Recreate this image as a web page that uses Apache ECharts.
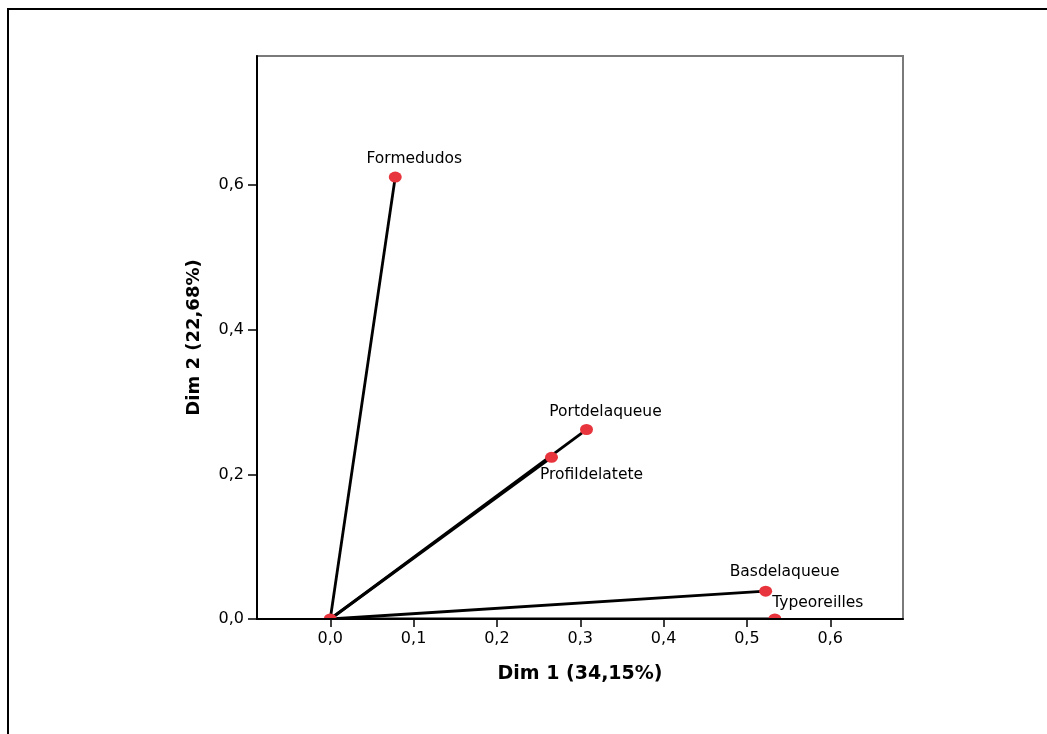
<!DOCTYPE html>
<html>
<head>
<meta charset="utf-8">
<script src="https://cdn.jsdelivr.net/npm/echarts@6/dist/echarts.min.js"></script>
<style>
html,body{margin:0;padding:0;background:#fff;}
#chart{width:1047px;height:734px;}
</style>
</head>
<body>
<div id="chart"></div>
<script>
// ---- data ----
const names = ['Formedudos', 'Portdelaqueue', 'Profildelatete', 'Basdelaqueue', 'Typeoreilles'];
const dim1 = [0.078, 0.3075, 0.2655, 0.5225, 0.5335];
const dim2 = [0.611, 0.262, 0.2235, 0.0385, 0.0];
const xTicks = [0.0, 0.1, 0.2, 0.3, 0.4, 0.5, 0.6];
const yTicks = [0.0, 0.2, 0.4, 0.6];
const xTitle = 'Dim 1 (34,15%)';
const yTitle = 'Dim 2 (22,68%)';
const xRange = [-0.0879, 0.6873];
const yRange = [0, 0.7784];

// ---- layout of the point labels (by name) ----
const labelPlacement = {
  'Formedudos':     {position: 'top', offset: [19, 1]},
  'Portdelaqueue':  {position: 'top', offset: [19, 2]},
  'Profildelatete': {position: 'bottom', offset: [40, -2]},
  'Basdelaqueue':   {position: 'top', offset: [19, 0]},
  'Typeoreilles':   {position: 'top', offset: [43, 3]}
};

const fmt = v => v.toFixed(1).replace('.', ',');
const FONT = 'DejaVu Sans';

const series = [];
names.forEach((n, i) => {
  series.push({
    type: 'line',
    data: [[0, 0], [dim1[i], dim2[i]]],
    symbol: 'none',
    lineStyle: {color: '#000', width: 2.8},
    silent: true,
    z: 2
  });
});
series.push({
  type: 'scatter',
  clip: true,
  z: 3,
  symbol: 'circle',
  symbolSize: [13, 11],
  itemStyle: {color: '#e8343c', opacity: 1},
  data: [{value: [0, 0], label: {show: false}}].concat(names.map((n, i) => ({
    name: n,
    value: [dim1[i], dim2[i]],
    label: Object.assign({show: true, formatter: n, color: '#000'}, labelPlacement[n])
  }))),
  label: {
    show: true,
    color: '#000',
    fontFamily: FONT,
    fontSize: 15.5,
    distance: 6
  }
});

const chart = echarts.init(document.getElementById('chart'), null, {renderer: 'canvas'});
chart.setOption({
  animation: false,
  backgroundColor: '#fff',
  graphic: [{
    type: 'rect',
    shape: {x: 8, y: 9, width: 1200, height: 900},
    style: {fill: 'none', stroke: '#000', lineWidth: 2},
    silent: true,
    z: -10
  }, {
    // white mask below the plot frame so markers sitting on the axis are cut like the reference
    type: 'rect',
    shape: {x: 240, y: 620, width: 700, height: 40},
    style: {fill: '#fff'},
    silent: true,
    z: 5
  }],
  grid: {
    left: 257, right: 144, top: 56, bottom: 115,
    show: true, borderColor: '#7a7a7a', borderWidth: 2, backgroundColor: 'transparent'
  },
  xAxis: {
    type: 'value',
    z: 10,
    min: xRange[0], max: xRange[1],
    splitLine: {show: false},
    axisLine: {onZero: false, lineStyle: {color: '#000', width: 2}},
    axisTick: {show: true, length: 8, customValues: xTicks, lineStyle: {color: '#000', width: 1.5}},
    axisLabel: {customValues: xTicks, formatter: fmt, margin: 12, color: '#000', fontFamily: FONT, fontSize: 16},
    name: xTitle,
    nameLocation: 'middle',
    nameGap: 46,
    nameTextStyle: {fontFamily: FONT, fontWeight: 'bold', fontSize: 19, color: '#000'}
  },
  yAxis: {
    type: 'value',
    z: 10,
    min: yRange[0], max: yRange[1],
    splitLine: {show: false},
    axisLine: {onZero: false, lineStyle: {color: '#000', width: 2}},
    axisTick: {show: true, length: 9, customValues: yTicks, lineStyle: {color: '#000', width: 1.5}},
    axisLabel: {customValues: yTicks, formatter: fmt, margin: 13, color: '#000', fontFamily: FONT, fontSize: 16},
    name: yTitle,
    nameLocation: 'middle',
    nameGap: 54,
    nameRotate: 90,
    nameTextStyle: {fontFamily: FONT, fontWeight: 'bold', fontSize: 18, color: '#000'}
  },
  series: series
});
</script>
</body>
</html>
